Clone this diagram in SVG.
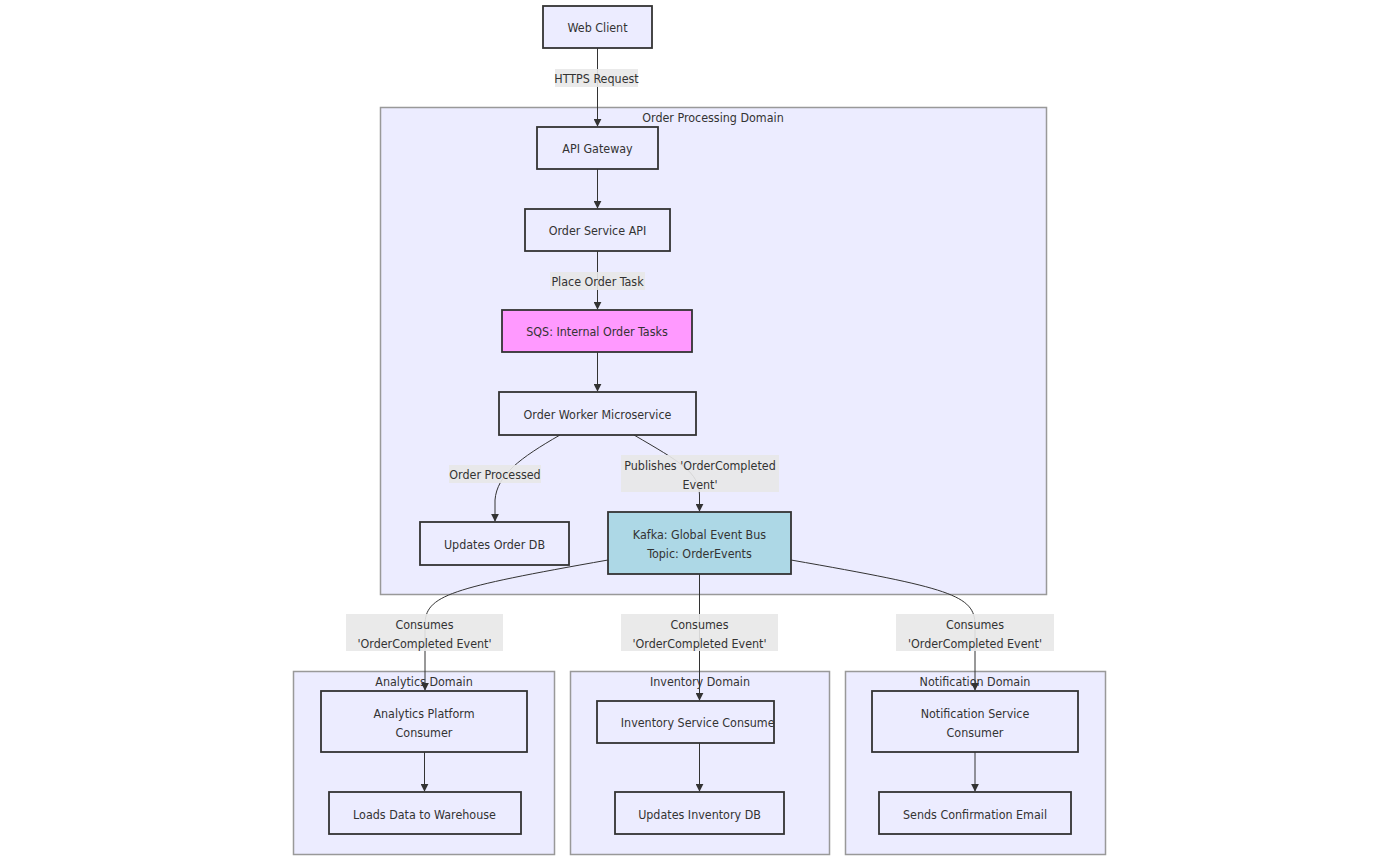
<svg xmlns="http://www.w3.org/2000/svg" width="1400" height="861" viewBox="0 0 1400 861">
<defs>
<style>
.cluster{fill:#ECECFF;stroke:#999;stroke-width:1.5}
.node{fill:#ECECFF;stroke:#333;stroke-width:1.8}
.t{font-family:"DejaVu Sans Condensed","DejaVu Sans",sans-serif;font-size:12.4px;fill:#333;text-anchor:middle}
.ct{font-family:"DejaVu Sans Condensed","DejaVu Sans",sans-serif;font-size:12.4px;fill:#333;text-anchor:middle}
.edge{fill:none;stroke:#333;stroke-width:1}
.lbl{fill:#e8e8e8;opacity:0.9}
</style>
<marker id="arr" viewBox="0 0 10 10" refX="9" refY="5" markerWidth="8" markerHeight="8" orient="auto" markerUnits="userSpaceOnUse">
<path d="M0,0 L10,5 L0,10 z" fill="#333"/>
</marker>
<clipPath id="clipWorker"><rect x="500" y="393" width="172" height="41"/></clipPath>
<clipPath id="clipInv"><rect x="598" y="702" width="177" height="40"/></clipPath>
</defs>
<rect width="1400" height="861" fill="#fff"/>

<g id="clusters">
<g id="cluster-order"><rect class="cluster" x="380.5" y="107.5" width="666" height="487"/><text class="ct" x="713" y="122">Order Processing Domain</text></g>
<g id="cluster-analytics"><rect class="cluster" x="293.5" y="671.5" width="261" height="183"/><text class="ct" x="424" y="686">Analytics Domain</text></g>
<g id="cluster-inventory"><rect class="cluster" x="570.5" y="671.5" width="259" height="183"/><text class="ct" x="700" y="686">Inventory Domain</text></g>
<g id="cluster-notification"><rect class="cluster" x="845.5" y="671.5" width="260" height="183"/><text class="ct" x="975" y="686">Notification Domain</text></g>
</g>

<g id="connectors">
<path class="edge" d="M597.5,48 L597.5,126" marker-end="url(#arr)"/>
<path class="edge" d="M597.5,169 L597.5,208" marker-end="url(#arr)"/>
<path class="edge" d="M597.5,251 L597.5,309" marker-end="url(#arr)"/>
<path class="edge" d="M597.5,352 L597.5,391" marker-end="url(#arr)"/>
<path class="edge" d="M560,435 C520,458 497,475 495,500 L495,521" marker-end="url(#arr)"/>
<path class="edge" d="M634,435 C680,462 699,472 699.5,495 L699.5,511" marker-end="url(#arr)"/>
<path class="edge" d="M608,560 C450,588 425,595 425,625 L425,690" marker-end="url(#arr)"/>
<path class="edge" d="M699.5,574 L699.5,700" marker-end="url(#arr)"/>
<path class="edge" d="M791,560 C950,588 975,595 975,625 L975,690" marker-end="url(#arr)"/>
<path class="edge" d="M424.5,752 L424.5,791" marker-end="url(#arr)"/>
<path class="edge" d="M699.5,743 L699.5,791" marker-end="url(#arr)"/>
<path class="edge" d="M975,752 L975,791" marker-end="url(#arr)"/>
</g>

<g id="edge-labels">
<g id="lbl-https"><rect class="lbl" x="555" y="69" width="83" height="18"/><text class="t" x="596.5" y="83">HTTPS Request</text></g>
<g id="lbl-place"><rect class="lbl" x="550" y="272" width="95" height="18"/><text class="t" x="597.5" y="286">Place Order Task</text></g>
<g id="lbl-processed"><rect class="lbl" x="449" y="465" width="92" height="18"/><text class="t" x="495" y="479">Order Processed</text></g>
<g id="lbl-publishes"><rect class="lbl" x="621" y="455" width="158" height="37"/><text class="t" x="700" y="470">Publishes 'OrderCompleted</text><text class="t" x="700" y="489">Event'</text></g>
<g id="lbl-c1"><rect class="lbl" x="346" y="614" width="157" height="37"/><text class="t" x="424.5" y="629">Consumes</text><text class="t" x="424.5" y="648">'OrderCompleted Event'</text></g>
<g id="lbl-c2"><rect class="lbl" x="621" y="614" width="157" height="37"/><text class="t" x="699.5" y="629">Consumes</text><text class="t" x="699.5" y="648">'OrderCompleted Event'</text></g>
<g id="lbl-c3"><rect class="lbl" x="896" y="614" width="158" height="37"/><text class="t" x="975" y="629">Consumes</text><text class="t" x="975" y="648">'OrderCompleted Event'</text></g>
</g>

<g id="node-webclient"><rect class="node" x="543" y="6" width="109" height="42"/><text class="t" x="597.5" y="32">Web Client</text></g>
<g id="node-apigw"><rect class="node" x="537" y="127" width="121" height="42"/><text class="t" x="597.5" y="153">API Gateway</text></g>
<g id="node-orderapi"><rect class="node" x="525" y="209" width="145" height="42"/><text class="t" x="597.5" y="235">Order Service API</text></g>
<g id="node-sqs"><rect class="node" style="fill:#FF99FF" x="502" y="310" width="190" height="42"/><text class="t" x="597" y="336">SQS: Internal Order Tasks</text></g>
<g id="node-worker"><rect class="node" x="499" y="392" width="197" height="43"/><text class="t" x="597.5" y="419" clip-path="url(#clipWorker)">Order Worker Microservice</text></g>
<g id="node-orderdb"><rect class="node" x="420" y="522" width="149" height="43"/><text class="t" x="494.5" y="549">Updates Order DB</text></g>
<g id="node-kafka"><rect class="node" style="fill:#ADD8E6" x="608" y="512" width="183" height="62"/><text class="t" x="699.5" y="539">Kafka: Global Event Bus</text><text class="t" x="699.5" y="558">Topic: OrderEvents</text></g>
<g id="node-analytics"><rect class="node" x="321" y="691" width="206" height="61"/><text class="t" x="424" y="718">Analytics Platform</text><text class="t" x="424" y="737">Consumer</text></g>
<g id="node-warehouse"><rect class="node" x="329" y="792" width="192" height="42"/><text class="t" x="424.5" y="819">Loads Data to Warehouse</text></g>
<g id="node-inventory"><rect class="node" x="597" y="701" width="177" height="42"/><text class="t" x="700" y="727" clip-path="url(#clipInv)">Inventory Service Consumer</text></g>
<g id="node-invdb"><rect class="node" x="615" y="792" width="169" height="42"/><text class="t" x="699.5" y="819">Updates Inventory DB</text></g>
<g id="node-notification"><rect class="node" x="872" y="691" width="206" height="61"/><text class="t" x="975" y="718">Notification Service</text><text class="t" x="975" y="737">Consumer</text></g>
<g id="node-email"><rect class="node" x="879" y="792" width="192" height="42"/><text class="t" x="975" y="819">Sends Confirmation Email</text></g>
</svg>
